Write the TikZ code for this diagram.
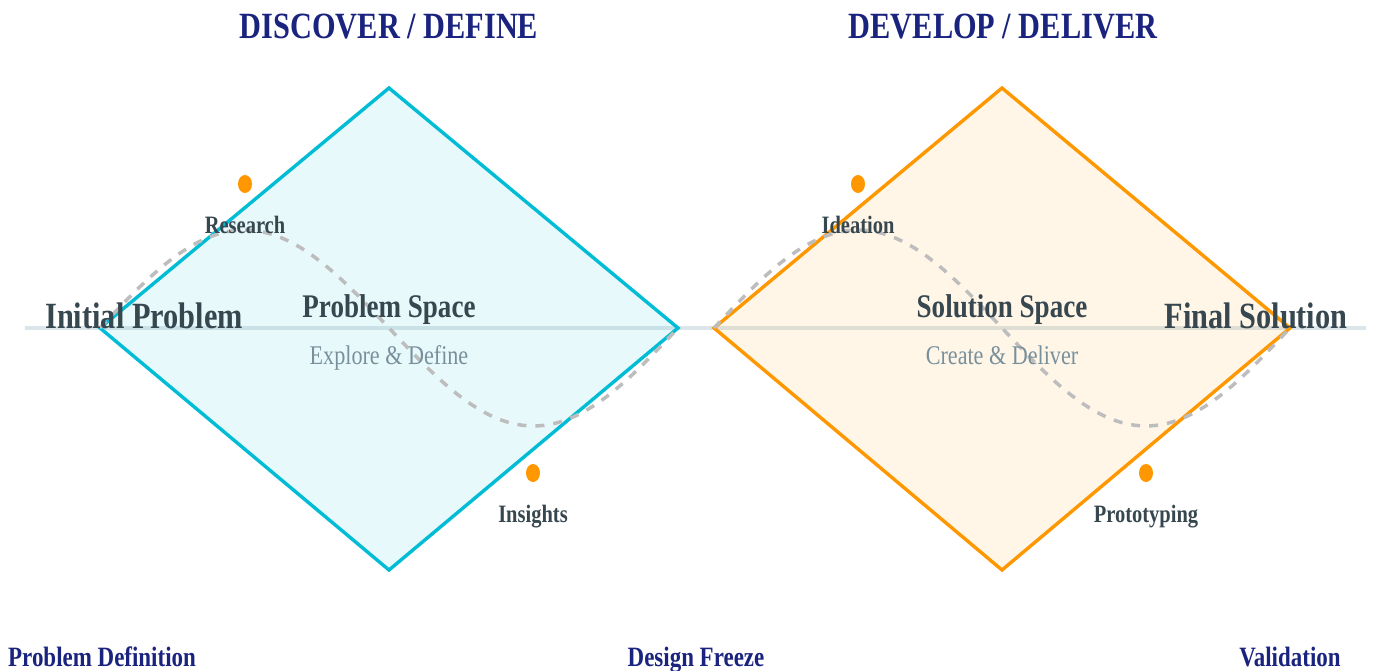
\documentclass[tikz,border=0pt]{standalone}
\usepackage{fontspec}
\setmainfont{Liberation Serif}[FakeStretch=0.82]
\usepackage{tikz}
\usetikzlibrary{positioning,shapes.geometric}
\definecolor{phasenavy}{HTML}{1A237E}
\definecolor{problemcyan}{HTML}{00BCD4}
\definecolor{solutionorange}{HTML}{FF9800}
\definecolor{inkgrey}{HTML}{37474F}
\definecolor{subgrey}{HTML}{78909C}
\definecolor{axisgrey}{HTML}{DCE6EA}
\definecolor{wavegrey}{HTML}{BDBDBD}

\begin{document}
\begin{tikzpicture}[
    x=1pt, y=-1pt,
    phase/.style={
		font=\bfseries\fontsize{37}{40}\selectfont,
		text=phasenavy,
		inner sep=0pt,
		anchor=base
	},
	milestone/.style={
		font=\bfseries\fontsize{28}{30}\selectfont,
		text=phasenavy,
		inner sep=0pt,
		anchor=base
	},
	space/.style={
		font=\bfseries\fontsize{33}{36}\selectfont,
		text=inkgrey,
		inner sep=0pt,
		anchor=base
	},
	subspace/.style={
		font=\fontsize{27}{30}\selectfont,
		text=subgrey,
		inner sep=0pt,
		anchor=base
	},
	endpoint/.style={
		font=\bfseries\fontsize{37}{40}\selectfont,
		text=inkgrey,
		inner sep=0pt,
		anchor=base
	},
	steplabel/.style={
		font=\bfseries\fontsize{25}{28}\selectfont,
		text=inkgrey,
		inner sep=0pt
	},
	dot/.style={
		ellipse,
		fill=solutionorange,
		minimum width=14pt,
		minimum height=18pt,
		inner sep=0pt
	},
	diamondline/.style={
		line width=3.4pt,
		line join=miter
	},
	wave/.style={
		draw=wavegrey,
		line width=3.5pt,
		dash pattern=on 9pt off 9pt
	}
  ]
    % frame and centre axis
  \useasboundingbox (0,0) rectangle (1376,671);
  \coordinate (axis west) at (25,328);
  \coordinate (axis east) at (1366,328);
  \draw [axisgrey, line width=4pt] (axis west) -- (axis east);

    % the two diamonds
  \coordinate (p west) at (100,328);
  \coordinate (p north) at (389,88);
  \coordinate (p east) at (678,328);
  \coordinate (p south) at (389,570);
  \coordinate (s west) at (714,328);
  \coordinate (s north) at (1002,88);
  \coordinate (s east) at (1290,328);
  \coordinate (s south) at (1002,570);

  \draw [diamondline, draw=problemcyan, fill=problemcyan, fill opacity=0.09]
    (p west) -- (p north) -- (p east) -- (p south) -- cycle;
  \draw [diamondline, draw=solutionorange, fill=solutionorange, fill opacity=0.09]
    (s west) -- (s north) -- (s east) -- (s south) -- cycle;

    % dashed path through each diamond
  \draw [wave] plot [domain=0:360, samples=90] ({100+\x/360*578}, {328-98*sin(\x)});
  \draw [wave] plot [domain=0:360, samples=90] ({714+\x/360*576}, {328-98*sin(\x)});

    % steps
  \node [dot] (research dot) at (245,184) {};
  \node [dot] (insights dot) at (533,473) {};
  \node [dot] (ideation dot) at (858,184) {};
  \node [dot] (prototyping dot) at (1146,473) {};

  \node [steplabel, below=23pt of research dot] (research) {Research};
  \node [steplabel, below=23pt of insights dot] (insights) {Insights};
  \node [steplabel, below=23pt of ideation dot] (ideation) {Ideation};
  \node [steplabel, below=23pt of prototyping dot] (prototyping) {Prototyping};

    % texts
  \node [phase] (discover) at (389,39) {DISCOVER / DEFINE};
  \node [phase] (develop) at (1003,39) {DEVELOP / DELIVER};

  \node [space] (problem space) at (389,317) {Problem Space};
  \node [subspace] (explore) at (389,364) {Explore \& Define};
  \node [space] (solution space) at (1002,317) {Solution Space};
  \node [subspace] (create) at (1002,364) {Create \& Deliver};

  \node [endpoint] (initial) at (144,328) {Initial Problem};
  \node [endpoint] (final) at (1256,328) {Final Solution};

  \node [milestone, anchor=base west] (definition) at (8,666) {Problem Definition};
  \node [milestone] (freeze) at (696,666) {Design Freeze};
  \node [milestone] (validation) at (1290,666) {Validation};

\end{tikzpicture}
\end{document}
